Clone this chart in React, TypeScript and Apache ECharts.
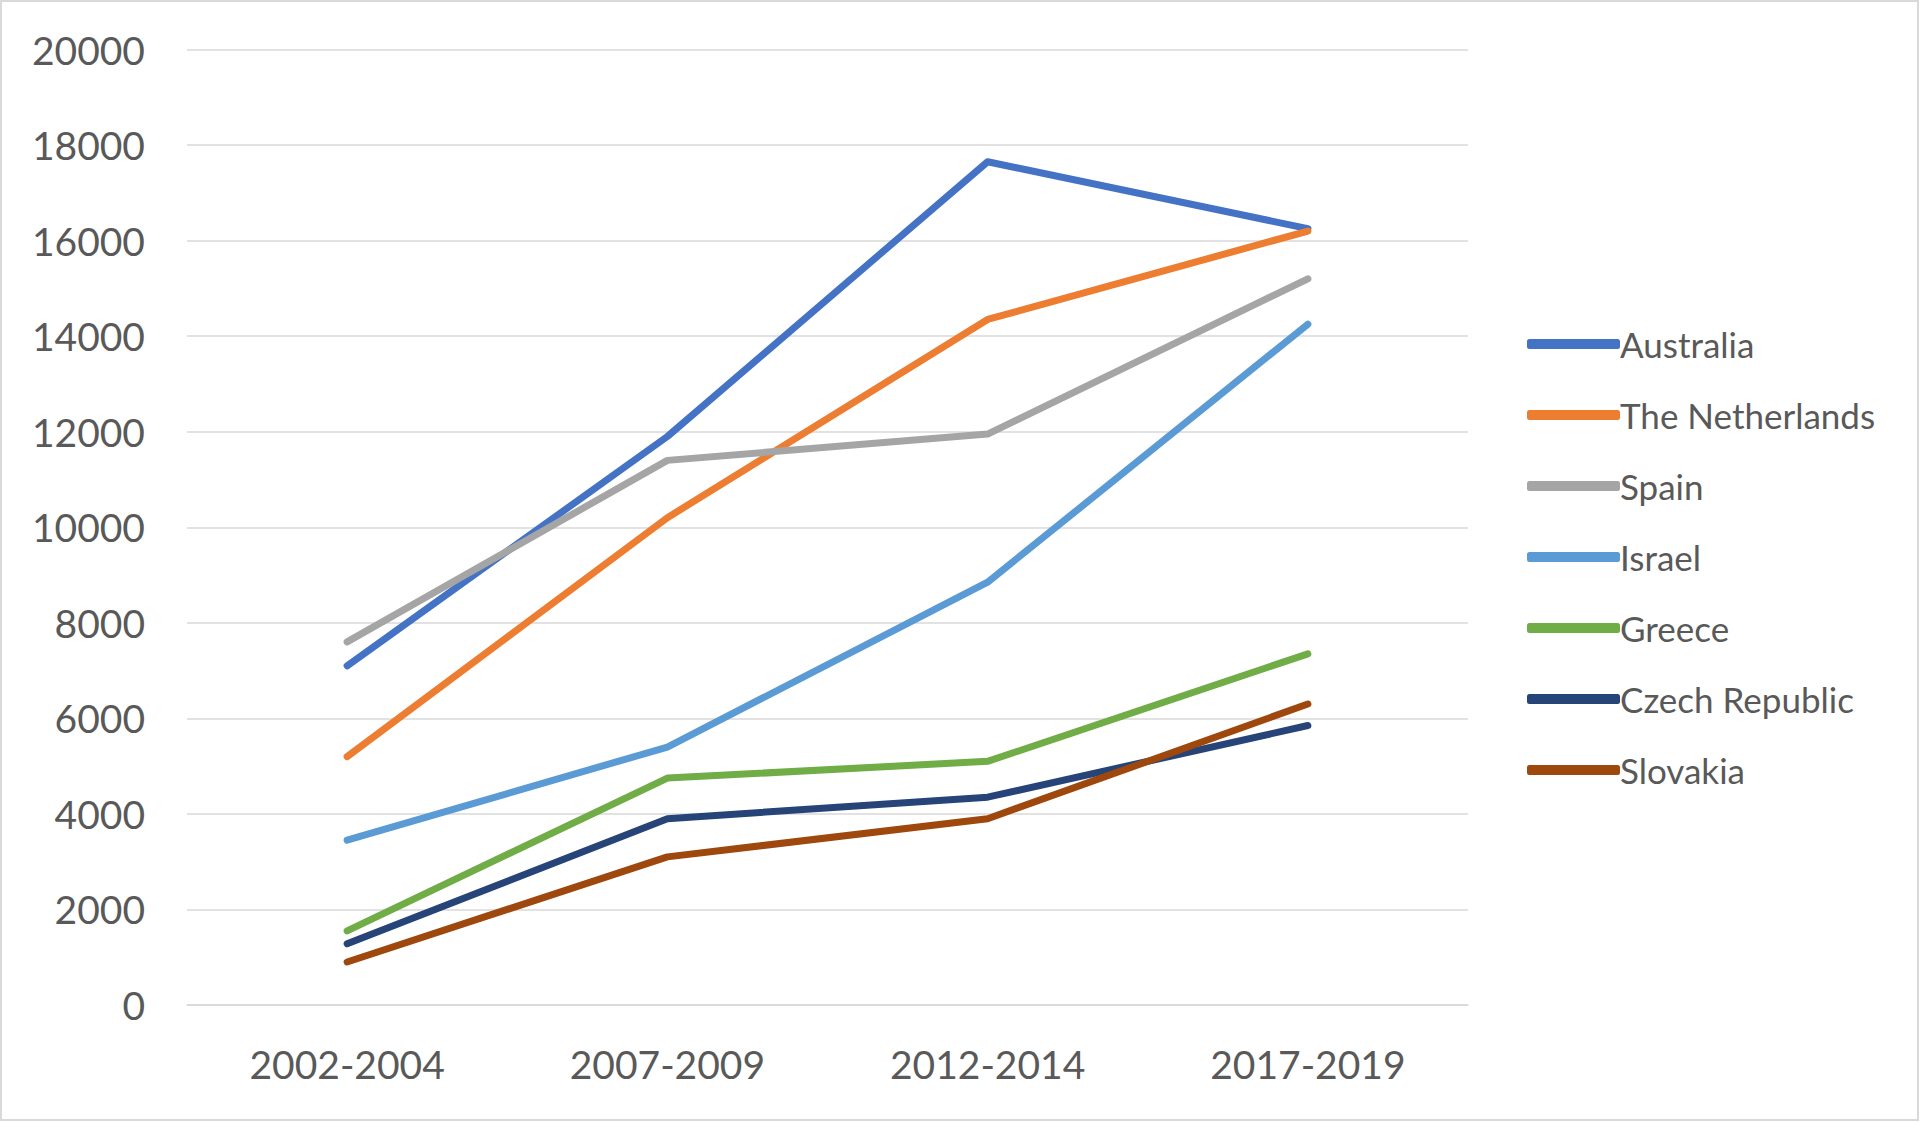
import React, { useEffect, useRef } from "react";
import * as echarts from "echarts";

const categories = ["2002-2004", "2007-2009", "2012-2014", "2017-2019"];
const seriesNames = ["Australia", "The Netherlands", "Spain", "Israel", "Greece", "Czech Republic", "Slovakia"];
const australia = [7100, 11900, 17650, 16250];
const netherlands = [5200, 10200, 14350, 16200];
const spain = [7600, 11400, 11950, 15200];
const israel = [3450, 5400, 8850, 14250];
const greece = [1550, 4750, 5100, 7350];
const czech = [1280, 3900, 4350, 5850];
const slovakia = [900, 3100, 3900, 6300];
const seriesValues = [australia, netherlands, spain, israel, greece, czech, slovakia];
const colors = ["#4472C4", "#ED7D31", "#A5A5A5", "#5B9BD5", "#70AD47", "#264478", "#9E480E"];
const yTicks = { min: 0, max: 20000, interval: 2000 };

export default function App() {
  const ref = useRef<HTMLDivElement>(null);
  useEffect(() => {
    document.body.style.margin = "0";
    if (!ref.current) return;
    const chart = echarts.init(ref.current, null, { renderer: "svg" });
    const font = "Lato, 'Noto Sans', sans-serif";
    chart.setOption({
      animation: false,
      backgroundColor: "#FFFFFF",
      grid: { left: 187, right: 452, top: 49.5, bottom: 117, containLabel: false },
      xAxis: {
        type: "category",
        data: categories,
        boundaryGap: true,
        axisLine: { show: true, lineStyle: { color: "#D9D9D9", width: 1.5 } },
        axisTick: { show: false },
        axisLabel: { color: "#595959", fontSize: 39, fontFamily: font, lineHeight: 40, margin: 39 },
      },
      yAxis: {
        type: "value",
        min: yTicks.min,
        max: yTicks.max,
        interval: yTicks.interval,
        axisLine: { show: false },
        axisTick: { show: false },
        splitLine: { show: true, lineStyle: { color: "#D9D9D9", width: 1.5 } },
        axisLabel: { color: "#595959", fontSize: 39, fontFamily: font, margin: 42, formatter: (v: number) => String(v) },
      },
      legend: {
        orient: "vertical",
        left: 1522,
        top: 319,
        itemWidth: 93,
        itemHeight: 10,
        itemGap: 31,
        icon: "roundRect",
        textStyle: { color: "#595959", fontSize: 35, fontFamily: font, lineHeight: 40, padding: [0, 0, 0, -5] },
        data: seriesNames,
      },
      graphic: [
        {
          type: "rect",
          shape: { x: 1, y: 1, width: 1917, height: 1119 },
          style: { fill: "none", stroke: "#D9D9D9", lineWidth: 2 },
          silent: true,
        },
      ],
      series: seriesNames.map((name, i) => ({
        name,
        type: "line",
        data: seriesValues[i],
        showSymbol: false,
        symbol: "none",
        color: colors[i],
        lineStyle: { color: colors[i], width: 7, cap: "round", join: "round" },
        itemStyle: { color: colors[i] },
      })),
    });
    return () => chart.dispose();
  }, []);
  return <div ref={ref} style={{ width: 1920, height: 1122 }} />;
}
